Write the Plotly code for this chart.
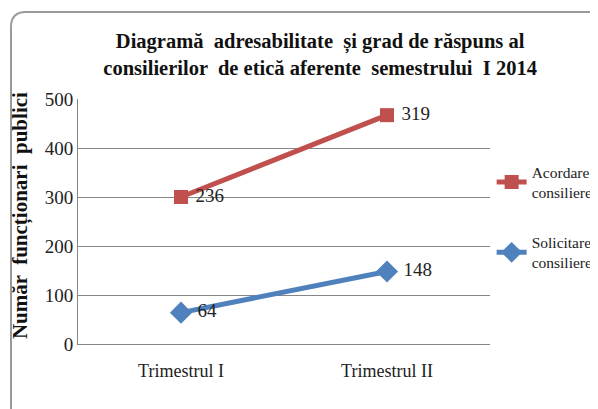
import plotly.graph_objects as go

categories = ['Trimestrul I', 'Trimestrul II']
solicitare = [64, 148]
acordare = [236, 319]
y_ticks = [0, 100, 200, 300, 400, 500]

ff = 'Liberation Serif'

fig = go.Figure()

# stacked line chart (as in the original Excel chart)
fig.add_trace(go.Scatter(
    x=categories, y=solicitare, name='Solicitare<br>consiliere',
    stackgroup='one', fill='none', legendgroup='s', legendrank=2,
    mode='lines+markers+text', text=[str(v) for v in solicitare],
    texttemplate='\u00a0%{text}',
    textposition='middle right', textfont=dict(family=ff, size=19, color='#222'),
    line=dict(color='#4F81BD', width=5),
    marker=dict(symbol='diamond', size=17, color='#4F81BD'),
))
fig.add_trace(go.Scatter(
    x=categories, y=acordare, name='Acordare<br>consiliere',
    stackgroup='one', fill='none', legendgroup='a', legendrank=1,
    mode='lines+markers+text', text=[str(v) for v in acordare],
    texttemplate='\u00a0%{text}',
    textposition='middle right', textfont=dict(family=ff, size=19, color='#222'),
    line=dict(color='#C0504D', width=5),
    marker=dict(symbol='square', size=14, color='#C0504D'),
))

# page has an 8px body margin, so the figure is 8px smaller than the window
fig.update_layout(
    width=590, height=401,
    margin=dict(l=70, r=108, t=91, b=65, autoexpand=False),
    paper_bgcolor='white', plot_bgcolor='white',
    font=dict(family=ff, color='#222', size=17),
    title=dict(
        text='<b>Diagramă  adresabilitate  și grad de răspuns al<br>consilierilor  de etică aferente  semestrului  I 2014</b>',
        x=0.529, xanchor='center', y=0.9, yanchor='top',
        font=dict(size=20.5, color='#111', family=ff),
    ),
    xaxis=dict(
        range=[-0.5, 1.5], showgrid=False, showline=True, linecolor='#868686',
        ticks='', tickfont=dict(family=ff, size=18), ticklabelstandoff=10,
        fixedrange=True,
    ),
    yaxis=dict(
        range=[0, 500], tickvals=y_ticks, showgrid=True, gridcolor='#868686',
        showline=True, linecolor='#868686', ticks='', tickfont=dict(family=ff, size=19),
        zeroline=False,
    ),
    legend=dict(
        x=1.004, xanchor='left', y=0.77, yanchor='top',
        traceorder='grouped', tracegroupgap=27,
        font=dict(family=ff, size=15.5), itemwidth=30,
    ),
    showlegend=True,
    annotations=[dict(
        text='<b>Număr  funcționari  publici</b>', textangle=-90,
        x=(20 - 78) / 412, y=0.522, xref='paper', yref='paper',
        xanchor='center', yanchor='middle',
        showarrow=False, font=dict(family=ff, size=21, color='#111'),
    )],
    shapes=[dict(
        type='path', xref='paper', yref='paper',
        path='M -0.1626,-0.31 L -0.1626,1.2939 Q -0.1626,1.3551 -0.1262,1.3551 L 1.27,1.3551',
        line=dict(color='#9a9a9a', width=2),
    )],
)

fig.write_html('out.html')
